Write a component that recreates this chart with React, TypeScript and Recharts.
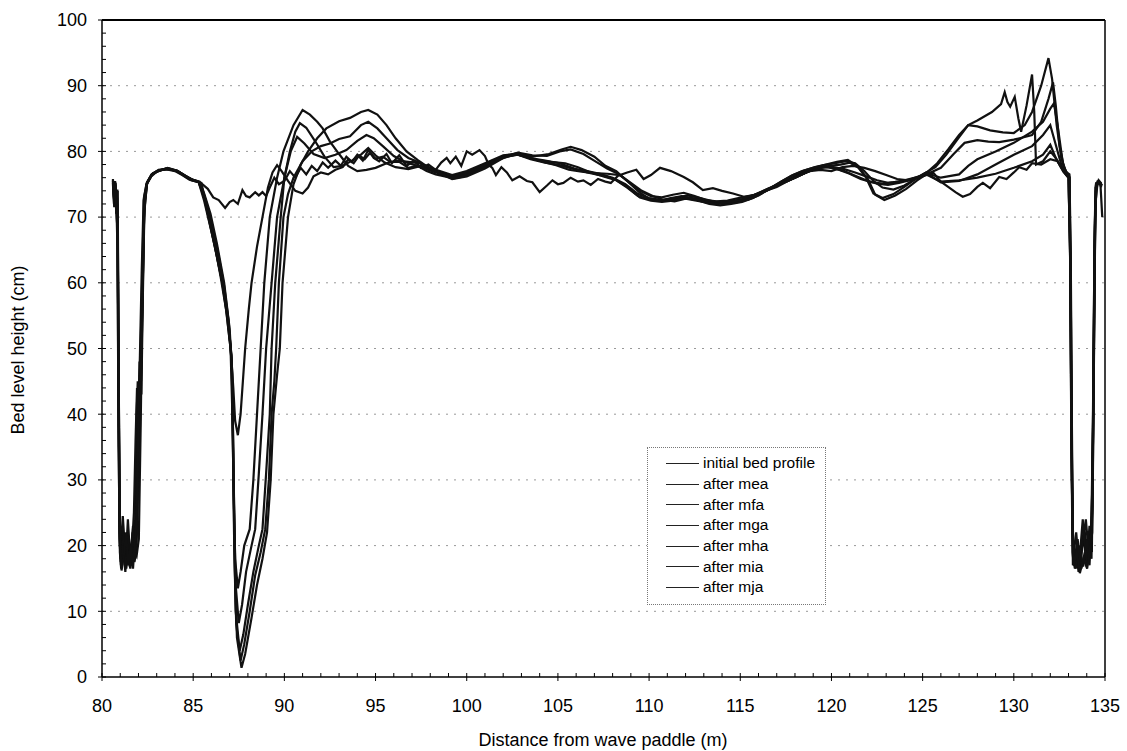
import React from 'react';
import { LineChart, Line, XAxis, YAxis, CartesianGrid, Legend, ReferenceLine } from 'recharts';

// Bed profiles: [distance (m), bed level (cm)]
const initialProfile = [
  [80.6, 75.5], [80.68, 73.5], [80.74, 75.2], [80.8, 71], [80.86, 74], [80.92, 45], [80.97, 22], [81.03, 17.5],
  [81.15, 19.5], [81.3, 16.8], [81.45, 18.2], [81.6, 17], [81.75, 19.5], [81.9, 18.5], [82.02, 21], [82.12, 38],
  [82.22, 58], [82.32, 72], [82.45, 75], [82.7, 76.2], [83.0, 76.9], [83.5, 77.4], [84.0, 77.1], [84.4, 76.5],
  [84.8, 75.8], [85.2, 75.5], [85.5, 75], [85.8, 74.3], [86.1, 73], [86.4, 72.6], [86.75, 71.4], [87.0, 72.3],
  [87.2, 72.6], [87.45, 72], [87.7, 74.1], [87.9, 73.2], [88.1, 73], [88.4, 73.8], [88.6, 73.3], [88.8, 73.8],
  [89.0, 73.2], [89.2, 74.5], [89.45, 76], [89.7, 75], [90.0, 75.5], [90.3, 77], [90.6, 76], [90.9, 77.5],
  [91.2, 76.5], [91.5, 77.8], [91.8, 77], [92.1, 78.3], [92.4, 77.5], [92.8, 78.6], [93.1, 77.8], [93.4, 79.2],
  [93.7, 78.4], [94.0, 79.5], [94.3, 78.6], [94.6, 80.2], [94.9, 79], [95.2, 78.5], [95.6, 79.6], [95.9, 78.2],
  [96.3, 79.4], [96.7, 77.8], [97.1, 78.6], [97.5, 77.5], [97.9, 78], [98.3, 77.2], [98.6, 78.3], [98.9, 79],
  [99.1, 78.2], [99.4, 79.2], [99.7, 77.8], [100.0, 80], [100.3, 79.5], [100.7, 80.2], [101.0, 79.3], [101.2, 78],
  [101.4, 77.5], [101.6, 76.4], [101.9, 77.6], [102.2, 76.8], [102.5, 75.6], [102.9, 76.2], [103.3, 75.5], [103.6, 75.3],
  [104.0, 73.8], [104.4, 74.8], [104.7, 75.6], [105.0, 75], [105.3, 75.2], [105.7, 76], [106.1, 75.4], [106.4, 75.6],
  [106.8, 74.9], [107.2, 75.8], [107.6, 75.4], [107.9, 75.2], [108.3, 76.3], [108.8, 76.8], [109.3, 77.2], [109.7, 75.8],
  [110.1, 76.4], [110.6, 77.5], [111.2, 77], [111.9, 76.1], [112.4, 75.3], [112.95, 74.1], [113.5, 74.4], [114.0, 74],
  [114.6, 73.6], [115.2, 73.1], [115.8, 73.4], [116.4, 74], [117.0, 74.6], [117.6, 75.5], [118.2, 76.3], [118.8, 77],
  [119.4, 77.2], [120.0, 77], [120.6, 77.6], [121.2, 77.8], [121.8, 77.5], [122.4, 77], [123.0, 76.4], [123.6, 75.8],
  [124.2, 75.6], [124.8, 76.2], [125.2, 76.8], [125.6, 76.7], [126.0, 75.4], [126.4, 74.6], [126.8, 73.8], [127.2, 73.1],
  [127.6, 73.5], [128.0, 74.6], [128.3, 75.2], [128.7, 74.4], [129.2, 76.1], [129.6, 75.8], [130.0, 76.8], [130.3, 77.6],
  [130.7, 77.2], [131.0, 78.2], [131.5, 78], [132.0, 78.8], [132.4, 78.5], [132.7, 77.2], [133.05, 76.5], [133.12, 65],
  [133.18, 40], [133.24, 20], [133.32, 17.5], [133.5, 18.5], [133.7, 16.5], [133.9, 19], [134.1, 17.8], [134.3, 22],
  [134.38, 45], [134.45, 68], [134.5, 75], [134.65, 75.5], [134.8, 74.5],
];

const afterMea = [
  [80.6, 75], [80.66, 72], [80.72, 75.5], [80.78, 70.5], [80.84, 73], [80.9, 42], [80.96, 21], [81.02, 18],
  [81.12, 23], [81.25, 17], [81.4, 20.5], [81.55, 16.5], [81.7, 19], [81.82, 24], [81.9, 40], [81.96, 45],
  [82.04, 42], [82.1, 48], [82.2, 60], [82.3, 73], [82.45, 75.2], [82.7, 76.4], [83.0, 77], [83.5, 77.3],
  [84.0, 77], [84.4, 76.4], [84.8, 75.7], [85.2, 75.4], [85.45, 75.2], [85.7, 72], [86.0, 68], [86.3, 64],
  [86.6, 60], [86.85, 55], [87.05, 50], [87.2, 44], [87.3, 39], [87.45, 36.8], [87.6, 40], [87.75, 46],
  [87.85, 50], [88.05, 56], [88.2, 60], [88.5, 65.5], [88.8, 70], [89.1, 74.5], [89.35, 76.8], [89.6, 77.9],
  [89.85, 77], [90.2, 75.5], [90.6, 74], [91.0, 73.6], [91.3, 74.5], [91.6, 76.2], [92.0, 76.8], [92.4, 76.5],
  [92.8, 77.2], [93.2, 77.6], [93.5, 78.8], [93.8, 78.2], [94.1, 79.4], [94.4, 78.8], [94.7, 79.8], [95.0, 78.9],
  [95.4, 79.2], [95.8, 78.4], [96.3, 78.4], [96.8, 77.5], [97.3, 77.8], [97.8, 77], [98.3, 76.5], [98.8, 76.2],
  [99.3, 75.9], [99.8, 76.2], [100.4, 77], [101.0, 77.8], [101.6, 78.6], [102.2, 79.2], [102.8, 79.5], [103.5, 79],
  [104.2, 78.4], [104.9, 77.9], [105.6, 77.2], [106.3, 76.9], [107.0, 76.7], [107.7, 76.6], [108.4, 76.4], [109.0, 75.2],
  [109.6, 74], [110.2, 73.2], [110.8, 72.6], [111.4, 72.4], [112.0, 72.8], [112.6, 72.5], [113.2, 72.2], [113.8, 72.1],
  [114.4, 72.3], [115.0, 72.6], [115.6, 73.2], [116.2, 73.9], [116.8, 74.6], [117.4, 75.3], [118.0, 76], [118.6, 76.8],
  [119.2, 77.4], [119.8, 77.6], [120.4, 77.2], [121.0, 76.6], [121.6, 75.8], [122.2, 75.3], [122.8, 75.1], [123.4, 75.3],
  [124.0, 75.6], [124.6, 76], [125.2, 76.5], [126.0, 75.4], [127.0, 75.6], [128.0, 76], [129.0, 76.6], [130.0, 77.5],
  [131.0, 78.5], [131.6, 79.5], [132.0, 81], [132.3, 79], [132.7, 77], [133.0, 76], [133.08, 66], [133.15, 38],
  [133.22, 19], [133.3, 17], [133.45, 20], [133.6, 16], [133.8, 21.5], [134.0, 17], [134.15, 23], [134.28, 19],
  [134.36, 42], [134.42, 66], [134.48, 74.5], [134.6, 75.2], [134.75, 75], [134.85, 70],
];

const afterMfa = [
  [80.6, 75.8], [80.67, 71.5], [80.73, 75], [80.79, 72], [80.85, 65], [80.91, 35], [80.98, 19], [81.05, 16.5],
  [81.18, 21], [81.3, 17.5], [81.42, 24], [81.55, 18], [81.68, 22], [81.78, 17.5], [81.88, 19], [81.98, 30],
  [82.08, 46], [82.16, 43], [82.24, 58], [82.33, 72], [82.48, 75.3], [82.75, 76.6], [83.1, 77.1], [83.6, 77.4],
  [84.1, 77], [84.5, 76.3], [84.9, 75.6], [85.3, 75.3], [85.6, 72.5], [85.9, 69], [86.2, 65.5], [86.5, 61],
  [86.8, 56], [87.05, 50], [87.15, 40], [87.22, 28], [87.3, 18], [87.45, 13.5], [87.6, 16], [87.8, 20],
  [88.1, 22.5], [88.3, 30], [88.5, 40], [88.7, 50], [88.9, 60], [89.2, 70], [89.6, 76], [89.95, 80],
  [90.5, 84], [91.0, 86.3], [91.4, 85.6], [91.8, 84.5], [92.1, 83.5], [92.5, 81.5], [93.0, 79.6], [93.5, 77.8],
  [94.0, 77], [94.5, 77.2], [95.0, 77.5], [95.6, 78.2], [96.2, 78.6], [96.8, 78.4], [97.4, 78.2], [98.1, 77.4],
  [99.2, 76.4], [100.0, 77], [101.0, 78.2], [102.0, 79.4], [102.7, 79.6], [103.5, 78.8], [104.3, 78.3], [105.1, 77.9],
  [105.9, 77.3], [106.6, 77], [107.3, 76.6], [108.0, 76], [108.7, 75], [109.4, 73.5], [110.0, 72.9], [110.7, 72.6],
  [111.4, 72.9], [112.1, 73.3], [112.8, 72.9], [113.5, 72.4], [114.1, 72.3], [114.7, 72.5], [115.3, 72.8], [115.9, 73.5],
  [116.5, 74.3], [117.1, 75], [117.7, 75.8], [118.3, 76.7], [118.9, 77.3], [119.5, 77.8], [120.1, 77.5], [120.7, 77],
  [121.3, 76.3], [121.9, 75.6], [122.5, 75.1], [123.1, 74.9], [123.7, 75.2], [124.3, 75.6], [124.9, 76.1], [125.3, 76.5],
  [126.0, 75.3], [127.0, 75.5], [128.0, 76.5], [129.0, 78], [130.0, 79.5], [131.0, 80.8], [131.6, 82.5], [132.0, 84],
  [132.3, 81], [132.7, 77], [133.0, 76], [133.1, 62], [133.17, 35], [133.25, 18], [133.35, 16.5], [133.5, 21],
  [133.65, 17], [133.85, 23], [134.05, 18.5], [134.2, 20], [134.32, 30], [134.4, 55], [134.47, 72], [134.6, 75.4],
  [134.8, 75.2],
];

const afterMga = [
  [80.6, 75.2], [80.66, 73], [80.72, 74.5], [80.78, 71], [80.84, 74.2], [80.9, 50], [80.96, 25], [81.02, 19],
  [81.14, 24.5], [81.28, 18.5], [81.4, 22], [81.52, 16.8], [81.65, 20], [81.75, 25], [81.84, 36], [81.92, 44],
  [82.0, 40], [82.08, 49], [82.18, 62], [82.28, 72.5], [82.44, 75], [82.7, 76.3], [83.1, 77.2], [83.6, 77.3],
  [84.1, 77.1], [84.5, 76.4], [84.9, 75.7], [85.3, 75.4], [85.6, 73], [85.95, 68.5], [86.3, 64], [86.6, 60],
  [86.9, 54.5], [87.1, 49], [87.18, 38], [87.25, 25], [87.33, 14], [87.5, 8.2], [87.68, 11], [87.9, 16],
  [88.2, 20], [88.4, 22.5], [88.6, 31], [88.8, 40], [89.0, 50], [89.3, 60], [89.6, 70], [90.0, 76],
  [90.3, 80], [90.6, 83], [90.85, 84.3], [91.2, 83.6], [91.7, 81.5], [92.2, 79.2], [92.7, 77.6], [93.2, 77.8],
  [93.7, 78.6], [94.2, 79.5], [94.6, 80.5], [95.0, 79.4], [95.5, 78.3], [96.1, 77.6], [96.8, 77.3], [97.5, 77.8],
  [98.2, 77], [99.2, 76.2], [100.0, 76.8], [101.0, 78], [102.0, 79.3], [102.7, 79.7], [103.5, 79], [104.3, 78.6],
  [105.1, 78.2], [105.9, 77.4], [106.6, 76.8], [107.3, 76.4], [108.1, 75.8], [108.8, 74.6], [109.4, 73.2], [110.0, 72.7],
  [110.7, 72.5], [111.4, 72.7], [112.1, 73], [112.8, 72.7], [113.5, 72.2], [114.1, 72], [114.7, 72.2], [115.3, 72.6],
  [115.9, 73.3], [116.5, 74.1], [117.1, 74.9], [117.7, 75.6], [118.3, 76.4], [118.9, 77.1], [119.5, 77.6], [120.1, 77.6],
  [120.7, 77.3], [121.3, 76.8], [121.9, 76.2], [122.5, 75.6], [123.1, 75.2], [123.7, 75.4], [124.3, 75.7], [124.9, 76.2],
  [125.3, 76.6], [126.0, 76], [127.0, 76.5], [127.5, 77.8], [128.0, 78.8], [129.0, 80], [130.0, 81.3], [131.0, 83],
  [131.6, 84.5], [132.0, 86.5], [132.2, 87.3], [132.4, 84], [132.7, 78], [133.0, 76], [133.09, 64], [133.16, 36],
  [133.24, 17], [133.4, 19.5], [133.55, 16], [133.75, 20], [133.95, 24], [134.1, 19], [134.25, 22], [134.34, 40],
  [134.42, 64], [134.5, 74.8], [134.65, 75.3], [134.8, 75],
];

const afterMha = [
  [80.6, 75.4], [80.67, 72.5], [80.73, 75.3], [80.8, 70], [80.86, 68], [80.92, 38], [80.98, 20], [81.06, 18],
  [81.2, 22], [81.33, 16.5], [81.46, 19.5], [81.6, 17.5], [81.72, 21], [81.82, 18], [81.92, 22], [82.02, 35],
  [82.1, 47], [82.2, 55], [82.3, 70], [82.46, 75.1], [82.72, 76.5], [83.1, 77], [83.6, 77.5], [84.1, 77.1],
  [84.5, 76.4], [84.9, 75.8], [85.3, 75.3], [85.6, 73.2], [85.9, 70], [86.25, 65], [86.6, 60.5], [86.9, 55],
  [87.12, 48], [87.18, 35], [87.24, 22], [87.33, 10], [87.55, 4], [87.75, 6.5], [88.0, 11], [88.3, 16],
  [88.6, 20], [88.8, 22.5], [89.0, 31], [89.2, 40], [89.3, 50], [89.5, 60], [89.8, 70], [90.0, 76],
  [90.35, 80], [90.7, 82.2], [91.1, 81.2], [91.6, 79.6], [92.2, 79], [92.8, 79.5], [93.4, 80.2], [94.0, 81.6],
  [94.5, 82.5], [94.9, 82], [95.4, 80.8], [96.0, 79.3], [96.6, 78.4], [97.3, 77.8], [98.1, 77], [99.2, 76],
  [100.0, 76.6], [101.0, 77.9], [102.0, 79.2], [102.8, 79.5], [103.8, 78.7], [104.6, 78.4], [105.4, 78.2], [106.1, 77.6],
  [106.8, 76.8], [107.5, 76.2], [108.2, 75.6], [108.8, 74.5], [109.5, 73], [110.1, 72.5], [110.7, 72.3], [111.3, 72.5],
  [112.0, 72.9], [112.6, 72.6], [113.3, 72], [113.9, 71.8], [114.5, 72], [115.1, 72.3], [115.7, 72.9], [116.3, 73.8],
  [116.9, 74.7], [117.5, 75.4], [118.1, 76.1], [118.7, 76.9], [119.3, 77.5], [119.9, 77.8], [120.5, 78], [121.0, 78.3],
  [121.5, 77.5], [122.0, 75.8], [122.4, 73.4], [122.9, 72.6], [123.5, 73.3], [124.1, 74.3], [124.7, 75.6], [125.2, 76.5],
  [126.0, 77.5], [126.7, 79.6], [127.3, 81.3], [128.0, 81.7], [128.6, 81.5], [129.2, 81.4], [130.0, 81.8], [130.6, 82.2],
  [131.0, 82.5], [131.5, 84.5], [131.9, 88], [132.15, 90.5], [132.3, 87], [132.5, 81], [132.75, 77.5], [133.05, 76],
  [133.12, 60], [133.19, 33], [133.26, 18], [133.42, 22], [133.58, 17], [133.78, 24], [133.98, 17.5], [134.12, 21],
  [134.26, 18], [134.35, 38], [134.43, 62], [134.5, 74], [134.65, 75.6], [134.8, 75.1],
];

const afterMia = [
  [80.6, 75.6], [80.66, 72.8], [80.72, 75], [80.78, 71.5], [80.85, 72], [80.91, 44], [80.97, 23], [81.04, 17],
  [81.16, 20], [81.28, 16], [81.42, 21.5], [81.56, 17.8], [81.7, 23], [81.8, 19], [81.9, 26], [82.0, 42],
  [82.08, 38], [82.16, 50], [82.26, 66], [82.36, 73.5], [82.5, 75.4], [82.8, 76.7], [83.2, 77.2], [83.7, 77.3],
  [84.2, 76.9], [84.6, 76.2], [85.0, 75.6], [85.35, 75.3], [85.6, 73.4], [85.9, 70.5], [86.3, 65.5], [86.7, 59.5],
  [86.95, 54], [87.13, 47], [87.2, 32], [87.27, 18], [87.36, 8], [87.6, 2.5], [87.8, 5], [88.1, 10],
  [88.4, 15.5], [88.7, 19], [88.95, 22.5], [89.15, 30], [89.3, 40], [89.45, 45], [89.55, 50], [89.7, 60],
  [89.95, 70], [90.2, 73.5], [90.5, 76], [91.0, 78.5], [91.5, 80], [92.0, 80.8], [92.5, 81.2], [93.0, 81.9],
  [93.6, 82.3], [94.2, 84], [94.6, 84.5], [95.1, 83.5], [95.6, 82], [96.2, 80.2], [96.8, 79], [97.4, 78.3],
  [98.1, 77.2], [99.2, 75.9], [100.0, 76.4], [101.0, 77.6], [102.0, 79.1], [102.8, 79.8], [103.6, 79.4], [104.4, 79.3],
  [105.1, 80], [105.7, 80.3], [106.4, 79.6], [107.1, 78.4], [107.7, 77.4], [108.3, 76.6], [108.9, 75.3], [109.5, 74],
  [110.1, 73.2], [110.7, 73], [111.3, 73.4], [111.9, 73.7], [112.5, 73.2], [113.1, 72.6], [113.7, 72.4], [114.3, 72.5],
  [114.9, 72.9], [115.5, 73.2], [116.1, 73.6], [116.7, 74.5], [117.3, 75.5], [117.9, 76.4], [118.5, 77.1], [119.1, 77.6],
  [119.7, 78], [120.3, 78.4], [120.9, 78.7], [121.4, 77.8], [121.9, 76], [122.3, 73.6], [122.8, 72.9], [123.4, 73.5],
  [124.0, 74.6], [124.6, 75.8], [125.2, 76.7], [125.8, 78.2], [126.4, 80.3], [127.0, 82.5], [127.5, 84], [128.0, 84.7],
  [128.8, 86], [129.3, 87.2], [129.5, 89], [129.65, 87.5], [129.8, 86.8], [130.05, 88.3], [130.25, 85], [130.4, 83],
  [130.7, 87], [131.0, 91.7], [131.12, 86], [131.22, 78], [131.6, 78.5], [132.0, 80], [132.3, 79], [132.6, 77.5],
  [132.9, 76.5], [133.05, 76], [133.11, 58], [133.18, 30], [133.26, 19], [133.4, 16.5], [133.6, 20], [133.8, 16.8],
  [134.0, 21], [134.15, 17], [134.28, 24], [134.37, 46], [134.44, 69], [134.52, 75.2], [134.7, 75.4], [134.85, 74.8],
];

const afterMja = [
  [80.6, 75.3], [80.67, 73.2], [80.73, 74.8], [80.79, 70.8], [80.86, 70], [80.93, 40], [80.99, 21], [81.07, 16.2],
  [81.2, 18.5], [81.32, 22], [81.45, 17], [81.58, 20], [81.7, 16.5], [81.8, 20.5], [81.9, 24], [81.98, 36],
  [82.06, 48], [82.14, 45], [82.22, 57], [82.32, 71], [82.47, 75.1], [82.75, 76.5], [83.15, 77.1], [83.65, 77.4],
  [84.15, 77], [84.55, 76.3], [84.95, 75.7], [85.35, 75.4], [85.6, 73.6], [85.95, 70.5], [86.3, 66], [86.7, 60],
  [87.0, 53], [87.14, 46], [87.22, 30], [87.3, 15], [87.4, 6], [87.65, 1.4], [87.85, 3.5], [88.2, 9],
  [88.5, 14], [88.8, 18], [89.05, 22], [89.25, 30], [89.4, 40], [89.6, 46], [89.75, 50], [89.9, 60],
  [90.2, 70], [90.5, 75], [90.9, 78], [91.3, 80], [91.8, 82], [92.3, 83.5], [93.0, 84.6], [93.6, 85.1],
  [94.2, 86], [94.6, 86.3], [95.1, 85.6], [95.6, 84], [96.1, 82], [96.7, 80], [97.3, 78.7], [98.1, 77.2],
  [99.2, 75.8], [100.0, 76.2], [101.0, 77.4], [102.0, 79], [102.8, 79.6], [103.6, 79.2], [104.5, 79.6], [105.2, 80.3],
  [105.7, 80.7], [106.3, 80.2], [107.0, 79.2], [107.6, 77.8], [108.2, 77], [108.8, 75.5], [109.5, 73.7], [110.0, 72.8],
  [110.6, 72.5], [111.2, 72.9], [111.8, 73.2], [112.4, 72.8], [113.0, 72.4], [113.6, 72], [114.2, 72.2], [114.8, 72.5],
  [115.4, 72.6], [116.0, 73.3], [116.6, 74.3], [117.2, 75.3], [117.8, 76.3], [118.4, 77], [119.0, 77.5], [119.6, 77.9],
  [120.2, 78.2], [120.8, 78.5], [121.3, 78.2], [121.8, 77], [122.3, 75.5], [122.8, 74.5], [123.4, 74.2], [124.0, 74.8],
  [124.6, 75.8], [125.2, 76.8], [125.7, 77.6], [126.3, 79.5], [126.9, 81.8], [127.5, 84], [128.0, 83.8], [128.7, 83.2],
  [129.4, 82.9], [130.0, 82.8], [130.6, 84], [131.0, 86], [131.5, 90], [131.9, 94.2], [132.1, 91], [132.35, 84],
  [132.6, 79], [132.85, 77], [133.05, 76.2], [133.13, 55], [133.2, 28], [133.28, 17], [133.45, 19], [133.62, 15.8],
  [133.82, 18], [134.02, 16.5], [134.2, 20], [134.32, 26], [134.4, 50], [134.47, 71], [134.55, 75], [134.7, 75.3],
];

const seriesNames = [
  'initial bed profile', 'after mea', 'after mfa', 'after mga', 'after mha', 'after mia', 'after mja',
];
const seriesData = [initialProfile, afterMea, afterMfa, afterMga, afterMha, afterMia, afterMja];

// every metre on x, every 2 cm on y; only the major ones get a label
const xTicks = Array.from({ length: 56 }, (_, i) => 80 + i);
const yTicks = Array.from({ length: 51 }, (_, i) => i * 2);
const yGridLines = [10, 20, 30, 40, 50, 60, 70, 80, 90];

const FONT = '"Liberation Sans", Arial, sans-serif';
const TICK_SIZE = 5;
const X_TICK_MARGIN = 17;
const Y_TICK_MARGIN = 10;

const XTick = (props: any) => {
  const { x, y, payload } = props;
  const axisY = y - TICK_SIZE - X_TICK_MARGIN;
  const major = payload.value % 5 === 0;
  return (
    <g>
      <line x1={x} x2={x} y1={axisY - 4} y2={major ? axisY + 4 : axisY} stroke="#000" strokeWidth={1} />
      {major && (
        <text x={x} y={y} dy="0.71em" textAnchor="middle" fill="#000" fontSize={18} fontFamily={FONT}>
          {payload.value}
        </text>
      )}
    </g>
  );
};

const YTick = (props: any) => {
  const { x, y, payload } = props;
  const axisX = x + TICK_SIZE + Y_TICK_MARGIN;
  const major = payload.value % 10 === 0;
  return (
    <g>
      <line x1={major ? axisX - 4 : axisX} x2={axisX + 4} y1={y} y2={y} stroke="#000" strokeWidth={1} />
      {major && (
        <text x={x} y={y} dy="0.355em" textAnchor="end" fill="#000" fontSize={18} fontFamily={FONT}>
          {payload.value}
        </text>
      )}
    </g>
  );
};

// legend box drawn by hand so the order matches the original (no sorting)
const renderLegend = () => (
  <div
    style={{
      border: '1px dotted #777',
      background: '#fff',
      padding: '5px 10px 6px 18px',
      fontFamily: FONT,
      fontSize: 15.5,
      color: '#000',
    }}
  >
    {seriesNames.map((name) => (
      <div key={name} style={{ display: 'flex', alignItems: 'center', height: 20.7 }}>
        <span style={{ display: 'inline-block', width: 33, height: 0, borderTop: '1.5px solid #222', marginRight: 4 }} />
        <span style={{ whiteSpace: 'nowrap' }}>{name}</span>
      </div>
    ))}
  </div>
);

const App: React.FC = () => {
  return (
    <div style={{ position: 'absolute', left: 0, top: 0, width: 1127, height: 751, background: '#fff', fontFamily: FONT }}>
      <LineChart width={1127} height={751} margin={{ top: 20, right: 22, bottom: 34, left: 42 }}>
        <CartesianGrid
          horizontal
          vertical={false}
          horizontalValues={yGridLines}
          stroke="#999"
          strokeDasharray="2 6"
        />
        <XAxis
          dataKey="x"
          type="number"
          domain={[80, 135]}
          ticks={xTicks}
          interval={0}
          allowDataOverflow
          height={40}
          tickSize={TICK_SIZE}
          tickMargin={X_TICK_MARGIN}
          tickLine={false}
          stroke="#000"
          strokeWidth={1.5}
          tick={<XTick />}
        />
        <YAxis
          type="number"
          domain={[0, 100]}
          ticks={yTicks}
          interval={0}
          allowDataOverflow
          width={60}
          tickSize={TICK_SIZE}
          tickMargin={Y_TICK_MARGIN}
          tickLine={false}
          stroke="#000"
          strokeWidth={1.5}
          tick={<YTick />}
        />
        <ReferenceLine y={100} stroke="#000" strokeWidth={2} />
        <ReferenceLine x={135} stroke="#000" strokeWidth={1.5} />
        <Legend
          layout="vertical"
          verticalAlign="middle"
          align="center"
          content={renderLegend}
          wrapperStyle={{ left: 647, top: 447, width: 'auto', height: 'auto' }}
        />
        {seriesData.map((pts, i) => (
          <Line
            key={seriesNames[i]}
            name={seriesNames[i]}
            data={pts.map(([x, y]) => ({ x, y }))}
            dataKey="y"
            type="linear"
            stroke="#111"
            strokeWidth={2.2}
            dot={false}
            activeDot={false}
            isAnimationActive={false}
          />
        ))}
      </LineChart>
      <div
        style={{
          position: 'absolute',
          left: 18,
          top: 350,
          transform: 'translate(-50%, -50%) rotate(-90deg)',
          whiteSpace: 'nowrap',
          fontSize: 18,
          color: '#000',
        }}
      >
        Bed level height (cm)
      </div>
      <div
        style={{
          position: 'absolute',
          left: 603,
          top: 740,
          transform: 'translate(-50%, -50%)',
          whiteSpace: 'nowrap',
          fontSize: 18,
          color: '#000',
        }}
      >
        Distance from wave paddle (m)
      </div>
    </div>
  );
};

export default App;
